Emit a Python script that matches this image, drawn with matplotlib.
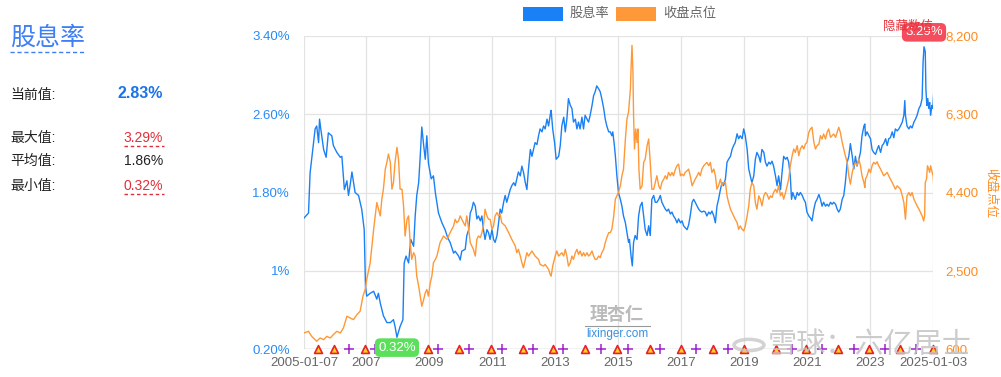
import datetime as dt
import matplotlib
matplotlib.use('Agg')
import matplotlib.pyplot as plt
import matplotlib.dates as mdates
from matplotlib.patches import Rectangle, Circle
from matplotlib.lines import Line2D

plt.rcParams['font.family'] = ['Liberation Sans', 'Noto Sans CJK SC']

# 股息率 (%), decimal-year dates
yield_years = [
    2005.02, 2005.16, 2005.21, 2005.32, 2005.37, 2005.42, 2005.48, 2005.51, 2005.55, 2005.64,
    2005.72, 2005.79, 2005.90, 2005.95, 2006.06, 2006.17, 2006.22, 2006.30, 2006.38, 2006.43,
    2006.48, 2006.54, 2006.64, 2006.75, 2006.85, 2006.93, 2006.97, 2007.01, 2007.12, 2007.23,
    2007.33, 2007.38, 2007.44, 2007.54, 2007.65, 2007.76, 2007.86, 2007.91, 2007.97, 2008.07,
    2008.16, 2008.20, 2008.26, 2008.34, 2008.41, 2008.50, 2008.55, 2008.60, 2008.66, 2008.71,
    2008.76, 2008.82, 2008.87, 2008.92, 2008.97, 2009.06, 2009.13, 2009.19, 2009.29, 2009.40,
    2009.50, 2009.56, 2009.61, 2009.66, 2009.77,
    2009.82, 2009.93, 2009.98, 2010.03, 2010.14, 2010.19, 2010.25, 2010.30, 2010.35, 2010.40,
    2010.46, 2010.51, 2010.56, 2010.62, 2010.67, 2010.72, 2010.77, 2010.83, 2010.88, 2010.93,
    2010.99, 2011.04, 2011.09, 2011.15, 2011.20, 2011.25, 2011.30, 2011.36, 2011.41, 2011.46,
    2011.52, 2011.57, 2011.62, 2011.68, 2011.73, 2011.78, 2011.83, 2011.89, 2011.94, 2011.99,
    2012.05, 2012.10, 2012.15, 2012.21, 2012.26, 2012.31, 2012.36, 2012.42, 2012.47, 2012.52,
    2012.58, 2012.63, 2012.68, 2012.74, 2012.79, 2012.84, 2012.87, 2012.92, 2012.98, 2013.03,
    2013.11, 2013.16, 2013.21, 2013.27, 2013.32, 2013.37, 2013.42, 2013.48, 2013.53, 2013.58,
    2013.64, 2013.69, 2013.74, 2013.79, 2013.85, 2013.90, 2013.95, 2014.01, 2014.06, 2014.11,
    2014.17, 2014.22, 2014.27, 2014.32, 2014.38, 2014.43, 2014.48, 2014.54, 2014.59, 2014.64,
    2014.70,
    2014.75, 2014.80, 2014.83, 2014.88, 2014.91, 2014.96, 2015.01, 2015.07, 2015.12, 2015.17,
    2015.23, 2015.28, 2015.33, 2015.36, 2015.41, 2015.45, 2015.49, 2015.54, 2015.60, 2015.65,
    2015.70, 2015.76, 2015.81, 2015.86, 2015.92, 2015.97, 2016.02, 2016.07, 2016.13, 2016.18,
    2016.23, 2016.29, 2016.34, 2016.39, 2016.45, 2016.50, 2016.55, 2016.60, 2016.66, 2016.71,
    2016.76, 2016.82, 2016.87, 2016.92, 2016.98, 2017.03, 2017.08, 2017.13, 2017.19, 2017.24,
    2017.29, 2017.35, 2017.40, 2017.45, 2017.51, 2017.56, 2017.61, 2017.66, 2017.72, 2017.77,
    2017.82, 2017.88, 2017.93, 2017.98, 2018.04, 2018.09, 2018.14, 2018.19, 2018.25, 2018.30,
    2018.35, 2018.41, 2018.46, 2018.51, 2018.57, 2018.62, 2018.67, 2018.72, 2018.78, 2018.83,
    2018.88, 2018.94, 2018.99, 2019.04, 2019.10, 2019.15, 2019.20, 2019.25, 2019.31, 2019.36,
    2019.41, 2019.47, 2019.52, 2019.57, 2019.63,
    2019.68, 2019.73, 2019.79, 2019.84, 2019.89, 2019.94, 2020.00, 2020.05, 2020.10, 2020.16,
    2020.21, 2020.26, 2020.32, 2020.37, 2020.42, 2020.47, 2020.51, 2020.55, 2020.58, 2020.63,
    2020.69, 2020.74, 2020.79, 2020.85, 2020.90, 2020.95, 2021.00, 2021.06, 2021.11, 2021.16,
    2021.22, 2021.27, 2021.32, 2021.38, 2021.43, 2021.48, 2021.53, 2021.59, 2021.64, 2021.69,
    2021.75, 2021.80, 2021.85, 2021.91, 2021.96, 2022.01, 2022.06, 2022.12, 2022.17, 2022.22,
    2022.28, 2022.33, 2022.38, 2022.44, 2022.49, 2022.54, 2022.59, 2022.65, 2022.70, 2022.75,
    2022.81, 2022.84, 2022.86, 2022.91, 2022.97, 2023.02, 2023.07, 2023.12, 2023.18, 2023.23,
    2023.28, 2023.34, 2023.39, 2023.44, 2023.50, 2023.55, 2023.60, 2023.65, 2023.71, 2023.76,
    2023.81, 2023.87, 2023.92, 2023.97, 2024.03, 2024.08, 2024.11, 2024.13, 2024.18, 2024.24,
    2024.29, 2024.34, 2024.40, 2024.45, 2024.50, 2024.56, 2024.61, 2024.66, 2024.69, 2024.72,
    2024.76, 2024.78, 2024.81, 2024.84, 2024.87, 2024.90, 2024.93, 2024.97, 2025.00, 2025.03,
]
yield_vals = [
    1.54, 1.59, 2.00, 2.31, 2.45, 2.48, 2.31, 2.55, 2.45, 2.24,
    2.16, 2.41, 2.38, 2.28, 2.21, 2.16, 2.17, 1.83, 1.92, 1.77,
    1.87, 2.01, 1.80, 1.77, 1.63, 1.42, 0.84, 0.74, 0.77, 0.79,
    0.71, 0.77, 0.67, 0.54, 0.47, 0.47, 0.50, 0.43, 0.32, 0.43,
    0.50, 1.08, 1.15, 1.08, 1.32, 1.25, 1.56, 1.77, 1.90, 2.17,
    2.47, 2.28, 2.14, 2.38, 2.10, 1.94, 1.97, 1.80, 1.59, 1.49,
    1.42, 1.36, 1.32, 1.29, 1.18,
    1.20, 1.15, 1.11, 1.20, 1.22, 1.36, 1.42, 1.59, 1.63, 1.70,
    1.66, 1.53, 1.56, 1.51, 1.56, 1.42, 1.32, 1.42, 1.39, 1.32,
    1.42, 1.32, 1.29, 1.36, 1.49, 1.63, 1.59, 1.70, 1.77, 1.70,
    1.77, 1.83, 1.87, 1.90, 1.87, 1.94, 2.01, 1.97, 2.07, 2.01,
    1.90, 1.83, 2.04, 2.24, 2.17, 2.24, 2.31, 2.29, 2.38, 2.45,
    2.42, 2.48, 2.45, 2.55, 2.48, 2.59, 2.64, 2.45, 2.31, 2.14,
    2.17, 2.28, 2.48, 2.57, 2.42, 2.55, 2.76, 2.69, 2.66, 2.52,
    2.55, 2.45, 2.52, 2.45, 2.57, 2.45, 2.59, 2.55, 2.52, 2.59,
    2.69, 2.79, 2.83, 2.89, 2.86, 2.83, 2.76, 2.66, 2.55, 2.48,
    2.42,
    2.42, 2.38, 2.42, 2.28, 2.18, 1.97, 1.80, 1.73, 1.66, 1.56,
    1.49, 1.39, 1.29, 1.32, 1.15, 1.05, 1.29, 1.36, 1.32, 1.56,
    1.66, 1.70, 1.56, 1.42, 1.36, 1.46, 1.36, 1.73, 1.77, 1.70,
    1.70, 1.73, 1.77, 1.70, 1.66, 1.63, 1.61, 1.63, 1.58, 1.60,
    1.56, 1.53, 1.49, 1.53, 1.49, 1.51, 1.46, 1.44, 1.42, 1.47,
    1.56, 1.70, 1.73, 1.70, 1.66, 1.63, 1.61, 1.60, 1.61, 1.60,
    1.56, 1.60, 1.58, 1.61, 1.56, 1.49, 1.66, 1.73, 1.83, 1.90,
    1.87, 1.94, 2.11, 2.14, 2.17, 2.24, 2.28, 2.31, 2.40, 2.35,
    2.38, 2.35, 2.45, 2.38, 2.24, 2.04, 1.97, 1.90, 1.97, 2.14,
    2.21, 2.17, 2.11, 2.24, 2.21,
    2.11, 2.07, 2.11, 2.09, 2.12, 2.07, 1.97, 1.87, 1.97, 1.83,
    2.01, 2.17, 2.14, 2.16, 2.11, 1.97, 1.73, 1.80, 1.77, 1.73,
    1.80, 1.77, 1.80, 1.77, 1.73, 1.70, 1.60, 1.56, 1.54, 1.51,
    1.63, 1.70, 1.73, 1.78, 1.73, 1.66, 1.70, 1.66, 1.68, 1.66,
    1.70, 1.68, 1.70, 1.68, 1.63, 1.60, 1.63, 1.73, 1.77, 1.90,
    2.11, 2.17, 2.30, 2.17, 2.04, 2.17, 2.07, 2.14, 2.21, 2.38,
    2.48, 2.50, 2.38, 2.42, 2.38, 2.35, 2.24, 2.21, 2.19, 2.24,
    2.28, 2.21, 2.28, 2.30, 2.35, 2.28, 2.35, 2.36, 2.42, 2.36,
    2.45, 2.43, 2.45, 2.48, 2.52, 2.59, 2.74, 2.59, 2.48, 2.45,
    2.48, 2.46, 2.52, 2.55, 2.59, 2.66, 2.69, 2.76, 3.13, 3.29,
    3.24, 2.86, 2.69, 2.76, 2.66, 2.72, 2.59, 2.69, 2.66, 2.83,
]

# 收盘点位
close_years = [
    2005.02, 2005.16, 2005.26, 2005.42, 2005.53, 2005.64, 2005.74, 2005.85, 2005.95, 2006.06,
    2006.17, 2006.27, 2006.38, 2006.48, 2006.59, 2006.70, 2006.80, 2006.89, 2006.96, 2007.01,
    2007.12, 2007.23, 2007.33, 2007.44, 2007.49, 2007.54, 2007.60, 2007.65, 2007.70, 2007.76,
    2007.81, 2007.86, 2007.91, 2007.97, 2008.02, 2008.07, 2008.13, 2008.18, 2008.23, 2008.29,
    2008.34, 2008.39, 2008.44, 2008.50, 2008.55, 2008.60, 2008.66, 2008.71, 2008.76, 2008.82,
    2008.87, 2008.92, 2008.97, 2009.03, 2009.08, 2009.13, 2009.19, 2009.24, 2009.34, 2009.45,
    2009.56, 2009.66, 2009.77,
    2009.82, 2009.87, 2009.93, 2009.98, 2010.03, 2010.14, 2010.19, 2010.25, 2010.30, 2010.35,
    2010.40, 2010.46, 2010.51, 2010.56, 2010.62, 2010.67, 2010.72, 2010.77, 2010.83, 2010.88,
    2010.93, 2010.99, 2011.04, 2011.09, 2011.15, 2011.20, 2011.25, 2011.30, 2011.41, 2011.52,
    2011.62, 2011.73, 2011.78, 2011.83, 2011.89, 2011.94, 2011.99, 2012.05, 2012.10, 2012.15,
    2012.26, 2012.36, 2012.47, 2012.52, 2012.63, 2012.68, 2012.79, 2012.84, 2012.87, 2012.92,
    2013.00, 2013.05, 2013.11, 2013.21, 2013.27, 2013.32, 2013.37, 2013.42, 2013.48, 2013.53,
    2013.58, 2013.64, 2013.69, 2013.74, 2013.79, 2013.85, 2013.90, 2013.95, 2014.01, 2014.06,
    2014.11, 2014.17, 2014.22, 2014.27, 2014.32, 2014.38, 2014.43, 2014.48, 2014.54, 2014.59,
    2014.64, 2014.70,
    2014.75, 2014.80, 2014.86, 2014.91, 2014.96, 2015.01, 2015.07, 2015.12, 2015.17, 2015.23,
    2015.28, 2015.33, 2015.39, 2015.41, 2015.44, 2015.47, 2015.49, 2015.52, 2015.56, 2015.60,
    2015.63, 2015.66, 2015.70, 2015.76, 2015.81, 2015.86, 2015.92, 2015.97, 2016.02, 2016.07,
    2016.13, 2016.18, 2016.23, 2016.29, 2016.34, 2016.39, 2016.45, 2016.50, 2016.55, 2016.60,
    2016.66, 2016.71, 2016.76, 2016.82, 2016.87, 2016.92, 2016.98, 2017.03, 2017.08, 2017.13,
    2017.19, 2017.24, 2017.29, 2017.35, 2017.40, 2017.45, 2017.51, 2017.56, 2017.61, 2017.66,
    2017.72, 2017.77, 2017.82, 2017.88, 2017.93, 2017.98, 2018.04, 2018.09, 2018.14, 2018.19,
    2018.25, 2018.30, 2018.35, 2018.41, 2018.46, 2018.51, 2018.57, 2018.62, 2018.67, 2018.72,
    2018.78, 2018.83, 2018.88, 2018.94, 2018.99, 2019.04, 2019.10, 2019.15, 2019.20, 2019.25,
    2019.31, 2019.36, 2019.41, 2019.47, 2019.52, 2019.57, 2019.63,
    2019.68, 2019.73, 2019.79, 2019.84, 2019.89, 2019.94, 2020.00, 2020.05, 2020.10, 2020.16,
    2020.21, 2020.26, 2020.32, 2020.37, 2020.42, 2020.47, 2020.53, 2020.58, 2020.63, 2020.69,
    2020.74, 2020.79, 2020.85, 2020.90, 2020.95, 2021.00, 2021.06, 2021.11, 2021.16, 2021.22,
    2021.27, 2021.32, 2021.38, 2021.43, 2021.48, 2021.53, 2021.59, 2021.64, 2021.69, 2021.75,
    2021.80, 2021.85, 2021.91, 2021.96, 2022.01, 2022.06, 2022.12, 2022.17, 2022.22, 2022.28,
    2022.33, 2022.38, 2022.44, 2022.49, 2022.54, 2022.59, 2022.65, 2022.70, 2022.75, 2022.81,
    2022.84, 2022.86, 2022.91, 2022.97, 2023.02, 2023.07, 2023.12, 2023.18, 2023.23, 2023.28,
    2023.34, 2023.39, 2023.44, 2023.50, 2023.55, 2023.60, 2023.65, 2023.71, 2023.76, 2023.81,
    2023.87, 2023.92, 2023.97, 2024.03, 2024.08, 2024.13, 2024.18, 2024.24, 2024.29, 2024.34,
    2024.40, 2024.45, 2024.50, 2024.56, 2024.61, 2024.66, 2024.71, 2024.74, 2024.76, 2024.80,
    2024.83, 2024.87, 2024.90, 2024.93, 2024.98, 2025.01, 2025.03,
]
close_vals = [
    990, 1030, 908, 787, 868, 827, 908, 868, 949, 1030,
    990, 1111, 1396, 1355, 1314, 1436, 1517, 1883, 2045, 2289,
    2694, 3507, 4156, 3832, 4237, 4481, 4968, 5131, 5334, 5131,
    4481, 4643, 5131, 5496, 5212, 4481, 4481, 4075, 3344, 3750,
    3832, 3182, 2776, 2938, 2857, 2370, 2126, 1883, 1639, 1802,
    1964, 2045, 1883, 2208, 2370, 2694, 2776, 2857, 3182, 3344,
    3263, 3425, 3588,
    3750, 3669, 3710, 3832, 3750, 3588, 3832, 3507, 3182, 3101,
    3020, 2857, 3263, 3344, 3304, 3426, 3588, 3994, 3832, 3750,
    3750, 3507, 3588, 3832, 3913, 3832, 3872, 3669, 3588, 3426,
    3263, 3101, 2938, 3020, 2857, 2695, 2573, 2776, 2938, 2857,
    2979, 2857, 2776, 2654, 2614, 2654, 2532, 2411, 2370, 2614,
    2857, 2979, 2857, 2938, 2857, 3020, 2857, 2614, 2695, 2857,
    2776, 2938, 3020, 2898, 2979, 2857, 2938, 2857, 2938, 2857,
    2898, 2979, 2857, 2776, 2776, 2857, 2817, 2938, 3020, 3182,
    3304, 3426,
    3426, 3507, 3832, 4237, 4319, 4400, 4562, 4806, 4968, 5699,
    6186, 6349, 6917, 7404, 7973, 7323, 6268, 5456, 5943, 5618,
    5943, 4968, 4481, 4562, 5131, 5212, 5537, 5699, 5131, 4481,
    4481, 4643, 4806, 4562, 4481, 4643, 4725, 4806, 4725, 4887,
    4806, 4887, 4806, 4968, 5050, 5090, 4806, 4847, 4806, 4887,
    4928, 4968, 4806, 4562, 4643, 4725, 4806, 4887, 4806, 4968,
    5050, 5090, 5131, 5050, 5131, 4887, 4968, 4806, 4481, 4562,
    4725, 4562, 4643, 4643, 4319, 4156, 3994, 3913, 3832, 3750,
    3669, 3507, 3588, 3507, 3467, 3588, 3832, 4075, 4481, 4643,
    4562, 4156, 3994, 4319, 4237, 4075, 4319,
    4400, 4359, 4237, 4319, 4278, 4400, 4481, 4400, 4562, 4319,
    4400, 4237, 4400, 4562, 4725, 5050, 5293, 5456, 5374, 5537,
    5293, 5456, 5537, 5456, 5577, 5618, 5862, 5943, 5984, 5618,
    5456, 5537, 5577, 5781, 5699, 5821, 5699, 5862, 5943, 5740,
    5781, 5821, 5740, 5862, 5984, 5862, 5618, 5456, 5293, 5131,
    4806, 4603, 4887, 5050, 5131, 5050, 5212, 5050, 4806, 4643,
    4522, 4725, 4806, 4968, 4887, 5050, 5131, 5090, 5147, 5050,
    4968, 4887, 4806, 4847, 4887, 4806, 4725, 4643, 4562, 4481,
    4562, 4522, 4481, 4319, 4156, 3750, 4319, 4400, 4319, 4400,
    4237, 4156, 4075, 3994, 3913, 3832, 3710, 3832, 4643, 4725,
    5050, 4968, 4887, 5050, 4887, 4806, 4562,
]

# event markers along the bottom
triangle_years = [2005.47, 2005.97, 2006.96, 2007.97, 2008.96, 2009.95, 2010.97, 2011.98,
                  2012.94, 2013.96, 2014.97, 2016.02, 2017.00, 2018.02, 2019.01, 2020.03,
                  2020.98, 2022.00, 2022.98, 2023.97, 2024.99]
plus_years = [2006.45, 2007.28, 2009.28, 2010.27, 2011.32, 2012.30, 2013.26, 2014.46,
              2015.32, 2016.34, 2017.48, 2018.50, 2020.54, 2021.49, 2022.48, 2023.49, 2024.45]

tick_dates = ['2005-01-07', '2007-01-01', '2009-01-01', '2011-01-01', '2013-01-01', '2015-01-01',
              '2017-01-01', '2019-01-01', '2021-01-01', '2023-01-01', '2025-01-03']
tick_labels = ['2005-01-07', '2007', '2009', '2011', '2013', '2015',
               '2017', '2019', '2021', '2023', '2025-01-03']
left_ticks = [0.2, 1.0, 1.8, 2.6, 3.4]
left_labels = ['0.20%', '1%', '1.80%', '2.60%', '3.40%']
right_ticks = [600, 2500, 4400, 6300, 8200]

BLUE = '#1a80f5'
ORANGE = '#ff9838'
GRID = '#e3e3e3'

base = mdates.date2num(dt.datetime(2005, 1, 1))


def to_num(years):
    return [base + (y - 2005) * 365.2425 for y in years]


fig = plt.figure(figsize=(10.01, 3.77), dpi=100)
ax = fig.add_axes([304 / 1001, 28 / 377, 629 / 1001, 313 / 377])
ax2 = ax.twinx()

ax.plot(to_num(yield_years), yield_vals, color=BLUE, lw=1.0)
ax2.plot(to_num(close_years), close_vals, color=ORANGE, lw=1.0)

xt = [mdates.date2num(dt.datetime.strptime(d, '%Y-%m-%d')) for d in tick_dates]
ax.set_xlim(xt[0], xt[-1])
ax.set_xticks(xt)
ax.set_xticklabels(tick_labels)
ax.set_ylim(0.2, 3.4)
ax.set_yticks(left_ticks)
ax.set_yticklabels(left_labels)
ax2.set_ylim(600, 8200)
ax2.set_yticks(right_ticks)
ax2.set_yticklabels([f'{v:,}' for v in right_ticks])

ax.grid(True, color=GRID, lw=0.9)
for a in (ax, ax2):
    for s in a.spines.values():
        s.set_visible(False)
    a.tick_params(length=0)
ax.tick_params(axis='x', colors='#666666', labelsize=9.5, pad=6)
ax.tick_params(axis='y', colors='#2a8af5', labelsize=9.5, pad=10)
ax2.tick_params(axis='y', colors='#ff8c20', labelsize=9.5, pad=9)
ax.axhline(0.2, color='#cccccc', lw=1)

# bottom event markers
ax.scatter(to_num(triangle_years), [0.2] * len(triangle_years), marker='^', s=32,
           facecolor='#ffd21f', edgecolor='#e8202a', linewidth=1.2, zorder=5, clip_on=False)
ax.scatter(to_num(plus_years), [0.2] * len(plus_years), marker='+', s=50,
           color='#a020d0', linewidth=1.1, zorder=5, clip_on=False)

# max / min labels
i_max = yield_vals.index(max(yield_vals))
i_min = yield_vals.index(min(yield_vals))
ax2.annotate(f'{max(yield_vals):.2f}%', (to_num([yield_years[i_max]])[0], 0), xycoords=('data', 'axes fraction'),
             xytext=(0, 228), textcoords='offset points', ha='center', va='center', color='white', fontsize=9.5,
             bbox=dict(boxstyle='round,pad=0.25,rounding_size=0.4', fc='#f44e5e', ec='none'), zorder=10)
ax2.annotate(f'{min(yield_vals):.2f}%', (to_num([yield_years[i_min]])[0], 0), xycoords=('data', 'axes fraction'),
             xytext=(0, 1), textcoords='offset points', ha='center', va='center', color='white', fontsize=9.5,
             bbox=dict(boxstyle='round,pad=0.25,rounding_size=0.4', fc='#5ce05c', ec='none'), zorder=10)
fig.text(908 / 1001, 1 - 27 / 377, '隐藏数值', color='#e8303a', fontsize=9, ha='center', va='center')

# right axis title
fig.text(990 / 1001, 1 - 193 / 377, '收盘点位', color='#ff8c20', fontsize=9, rotation=270,
         ha='center', va='center')

# legend
fig.patches.append(Rectangle((523 / 1001, 1 - 21 / 377), 40 / 1001, 14 / 377,
                             transform=fig.transFigure, fc=BLUE, ec='none'))
fig.text(570 / 1001, 1 - 14 / 377, '股息率', color='#666666', fontsize=9.5, va='center')
fig.patches.append(Rectangle((616 / 1001, 1 - 21 / 377), 40 / 1001, 14 / 377,
                             transform=fig.transFigure, fc=ORANGE, ec='none'))
fig.text(663 / 1001, 1 - 14 / 377, '收盘点位', color='#666666', fontsize=9.5, va='center')

# left summary panel
def fx(px):
    return px / 1001


def fy(py):
    return 1 - py / 377


fig.text(fx(10), fy(38), '股息率', color='#3f7ef5', fontsize=18, va='center')
fig.add_artist(Line2D([fx(10), fx(84)], [fy(52), fy(52)], color='#3f7ef5', lw=1, ls=(0, (3, 2))))
fig.text(fx(10), fy(95), '当前值:', color='#222222', fontsize=10, va='center')
fig.text(fx(163), fy(94), '2.83%', color='#1a73e8', fontsize=11.5, fontweight='bold', ha='right', va='center')
rows = [('最大值:', '3.29%', '#e0303c', 138, True),
        ('平均值:', '1.86%', '#222222', 161, False),
        ('最小值:', '0.32%', '#e0303c', 186, True)]
for name, val, col, py, dash in rows:
    fig.text(fx(10), fy(py), name, color='#222222', fontsize=10, va='center')
    fig.text(fx(163), fy(py), val, color=col, fontsize=10, ha='right', va='center')
    if dash:
        fig.add_artist(Line2D([fx(124), fx(164)], [fy(py + 8), fy(py + 8)], color=col, lw=1, ls=(0, (2.5, 2))))

# watermarks
fig.text(fx(617), fy(315), '理杏仁', color='#bbbbbb', fontsize=13, ha='center', va='center', fontweight='bold')
fig.add_artist(Line2D([fx(585), fx(650)], [fy(326), fy(326)], color='#999999', lw=0.8))
fig.text(fx(617), fy(334), 'lixinger.com', color='#3a90e0', fontsize=8.5, ha='center', va='center')
fig.patches.append(Circle((fx(749), fy(345)), 15 / 1001, transform=fig.transFigure,
                          fc='none', ec='#c8c8c8', lw=2.5, alpha=0.8))
fig.text(fx(768), fy(345), '雪球：六亿居士', color='#c4c4c4', fontsize=21, va='center', alpha=0.85)

fig.savefig('out.png', dpi=100)
